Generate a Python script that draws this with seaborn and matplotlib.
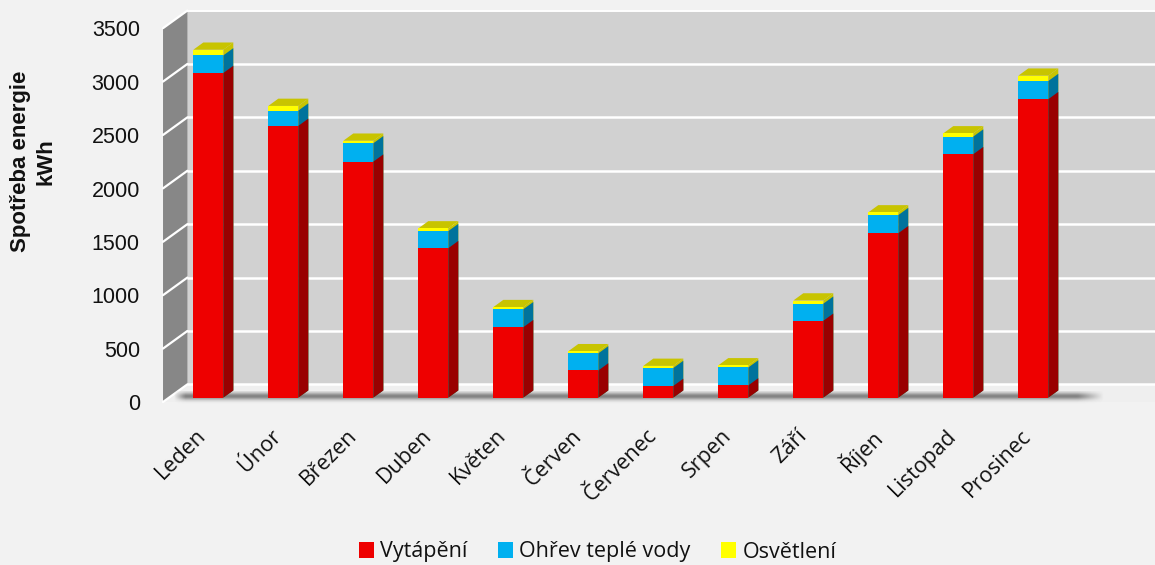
import numpy as np
import pandas as pd
import seaborn as sns
import matplotlib.pyplot as plt
from matplotlib import transforms
from matplotlib.patches import Polygon, Patch

# Monthly energy consumption (kWh)
months = ["Leden", "Únor", "Březen", "Duben", "Květen", "Červen",
          "Červenec", "Srpen", "Září", "Říjen", "Listopad", "Prosinec"]
heating = [3040, 2545, 2210, 1400, 660, 255, 110, 115, 720, 1540, 2280, 2795]
hot_water = [165, 143, 172, 160, 168, 160, 168, 168, 160, 170, 165, 170]
lighting = [53, 44, 24, 25, 20, 20, 20, 20, 30, 25, 30, 50]
series_names = ["Vytápění", "Ohřev teplé vody", "Osvětlení"]
y_ticks = [0, 500, 1000, 1500, 2000, 2500, 3000, 3500]

BG = "#f2f2f2"
FRONT = ["#ee0000", "#00b0f0", "#ffff00"]
SIDE = ["#990000", "#00739c", "#c8c400"]
TOP = "#c8c400"
BACK_WALL = "#d1d1d1"
SIDE_WALL = "#878787"

sns.set_theme(style="white")
plt.rcParams["font.family"] = ["Liberation Sans", "DejaVu Sans"]

df = pd.DataFrame({"month": months, "heating": heating,
                   "water": hot_water, "light": lighting})
df["lvl_red"] = df["heating"]
df["lvl_blue"] = df["heating"] + df["water"]
df["lvl_yellow"] = df["lvl_blue"] + df["light"]

fig = plt.figure(figsize=(11.55, 5.65), dpi=100, facecolor=BG)
ax = fig.add_axes([0.1479, 0.2961, 0.7792, 0.6616])
ax.set_facecolor("none")

# depth of a bar and of the walls, in data units
BDX, BDY = 0.133, 68
WALL_X0 = -0.524
FRONT_DX, FRONT_DY = -0.08, -40
BACK_DX, BACK_DY = 0.245, 125
X_RIGHT = 12.8
TOP_VAL = y_ticks[-1]

# floor
floor = Polygon([(WALL_X0 + FRONT_DX, FRONT_DY), (X_RIGHT, FRONT_DY),
                 (X_RIGHT, BACK_DY), (WALL_X0 + BACK_DX, BACK_DY)],
                closed=True, facecolor="#efefef", edgecolor="none",
                zorder=0.5, clip_on=False)
ax.add_patch(floor)
# back wall
back = Polygon([(WALL_X0 + BACK_DX, BACK_DY), (X_RIGHT, BACK_DY),
                (X_RIGHT, TOP_VAL + BACK_DY), (WALL_X0 + BACK_DX, TOP_VAL + BACK_DY)],
               closed=True, facecolor=BACK_WALL, edgecolor="none",
               zorder=0.6, clip_on=False)
ax.add_patch(back)
# left wall
left = Polygon([(WALL_X0 + FRONT_DX, FRONT_DY), (WALL_X0 + BACK_DX, BACK_DY),
                (WALL_X0 + BACK_DX, TOP_VAL + BACK_DY),
                (WALL_X0 + FRONT_DX, TOP_VAL + FRONT_DY)],
               closed=True, facecolor=SIDE_WALL, edgecolor="none",
               zorder=0.7, clip_on=False)
ax.add_patch(left)

# gridlines on the back and left walls
for v in y_ticks[:-1]:
    ax.plot([WALL_X0 + BACK_DX, X_RIGHT], [v + BACK_DY, v + BACK_DY],
            color="white", lw=1.8, zorder=0.8, clip_on=False,
            solid_capstyle="butt")
    ax.plot([WALL_X0 + FRONT_DX, WALL_X0 + BACK_DX],
            [v + FRONT_DY, v + BACK_DY], color="white", lw=1.6,
            zorder=0.8, clip_on=False)
ax.plot([WALL_X0 + FRONT_DX, WALL_X0 + BACK_DX],
        [TOP_VAL + FRONT_DY, TOP_VAL + BACK_DY], color="white", lw=1.6,
        zorder=0.8, clip_on=False)
ax.plot([WALL_X0 + BACK_DX, X_RIGHT], [TOP_VAL + BACK_DY] * 2,
        color="white", lw=1.4, zorder=0.8, clip_on=False)

# soft shadow band under the bars
ys = np.linspace(-70, 60, 120)
xs = np.linspace(WALL_X0 + 0.05, 11.95, 400)
alpha_y = 0.62 * np.exp(-((ys - 12) / 34.0) ** 2)
alpha_x = np.clip((11.95 - xs) / 0.35, 0, 1)
alpha_x *= np.clip((xs - (WALL_X0 + 0.05)) / 0.15, 0, 1)
shadow = np.zeros((len(ys), len(xs), 4))
shadow[..., :3] = 0.25
shadow[..., 3] = alpha_y[:, None] * alpha_x[None, :]
ax.imshow(shadow, extent=(xs[0], xs[-1], ys[0], ys[-1]), origin="lower",
          aspect="auto", zorder=0.9, interpolation="bilinear", clip_on=False)

# stacked bars: tallest level first, each lower level drawn over it
levels = ["lvl_yellow", "lvl_blue", "lvl_red"]
layer_cols = [2, 1, 0]
layers = []
for lvl, ci in zip(levels, layer_cols):
    n0 = len(ax.patches)
    sns.barplot(data=df, x="month", y=lvl, color=FRONT[ci], saturation=1,
                width=0.4, errorbar=None, linewidth=0, ax=ax, zorder=3)
    layers.append((ci, ax.patches[n0:]))

# side and top faces from the drawn bar geometry
for ci, patches in layers:
    for p in patches:
        x0 = p.get_x()
        x1 = x0 + p.get_width()
        y0 = p.get_y()
        y1 = y0 + p.get_height()
        ax.add_patch(Polygon([(x1, y0), (x1 + BDX, y0 + BDY),
                              (x1 + BDX, y1 + BDY), (x1, y1)],
                             closed=True, facecolor=SIDE[ci],
                             edgecolor="none", zorder=2.9, clip_on=False))
        if ci == 2:
            ax.add_patch(Polygon([(x0, y1), (x0 + BDX, y1 + BDY),
                                  (x1 + BDX, y1 + BDY), (x1, y1)],
                                 closed=True, facecolor=TOP,
                                 edgecolor="none", zorder=2.9, clip_on=False))

ax.set_xlim(-0.5, 11.5)
ax.set_ylim(0, TOP_VAL)
ax.axis("off")

# value axis labels, aligned with the front edge of the left wall
ylab_tf = transforms.offset_copy(ax.get_yaxis_transform(), fig=fig,
                                 x=-31, y=-7, units="dots")
for v in y_ticks:
    ax.text(0, v, f"{v}", transform=ylab_tf, ha="right", va="center",
            fontsize=15.5, color="#111111")

# month labels
xlab_tf = transforms.offset_copy(ax.transData, fig=fig, x=-5, y=-35,
                                 units="dots")
for i, m in enumerate(months):
    ax.text(i, 0, m, transform=xlab_tf, rotation=45, ha="right",
            va="center", rotation_mode="anchor", fontsize=15.5,
            family=["Open Sans", "DejaVu Sans"], color="#111111")

fig.text(33 / 1155, 1 - 161.5 / 565, "Spotřeba energie\nkWh", rotation=90,
         ha="center", va="center", multialignment="center",
         fontsize=16, fontweight="bold", linespacing=1.3, color="#111111")

handles = [Patch(facecolor=FRONT[i], edgecolor="none") for i in range(3)]
leg = fig.legend(handles, series_names, loc="center", ncol=3,
                 bbox_to_anchor=(597.5 / 1155, 13 / 565), frameon=False,
                 handlelength=0.7, handleheight=0.7, handletextpad=0.3,
                 columnspacing=1.4,
                 prop={"family": ["Open Sans", "DejaVu Sans"], "size": 15.5})
for t in leg.get_texts():
    t.set_color("#111111")

fig.savefig("out.png", dpi=100, facecolor=BG)
